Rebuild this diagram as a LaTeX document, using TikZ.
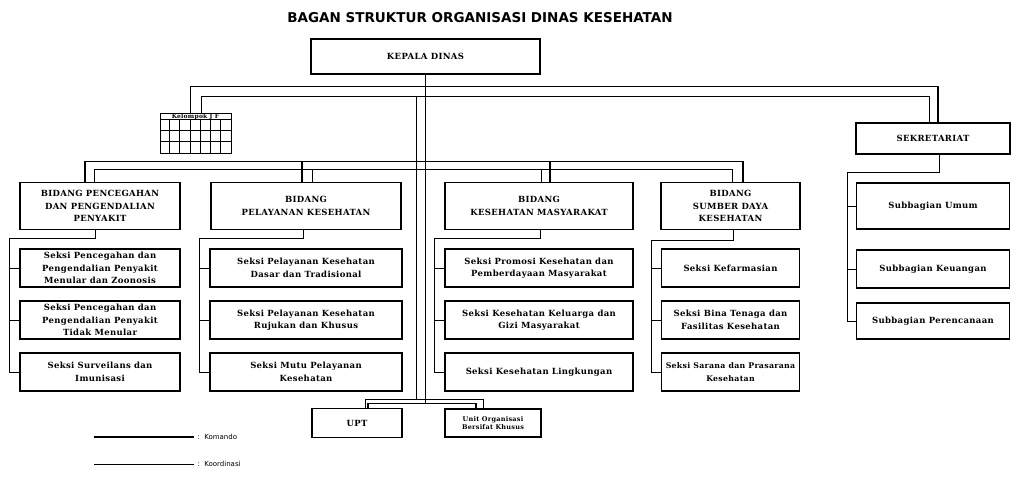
\documentclass[tikz,border=0pt]{standalone}
\usepackage{fontspec}
\setmainfont{DejaVu Serif}[LetterSpace=4]
\newfontfamily\titlefont{DejaVu Sans}
\usetikzlibrary{positioning}

\begin{document}
\begin{tikzpicture}[x=1pt,y=-1pt,node distance=52pt,on grid,
    box/.style={draw,line width=1.1pt,align=center,inner sep=2pt,
      font=\fontsize{8.5}{12.5}\selectfont\bfseries},
    bidang/.style={box,minimum height=47pt,minimum width=#1pt},
    seksi/.style={box,minimum height=38pt,minimum width=#1pt},
    komando/.style={line width=1.3pt},
    koordinasi/.style={line width=0.7pt},
    link/.style={line width=0.9pt},
    legend/.style={anchor=west,font=\titlefont\fontsize{7}{7}\selectfont}]
  \useasboundingbox (0,0) rectangle (1016,483);

  \node[font=\titlefont\fontsize{13.5}{13.5}\selectfont\bfseries] (title) at (480,18)
    {BAGAN STRUKTUR ORGANISASI DINAS KESEHATAN};
  \node[box,minimum width=229pt,minimum height=35pt] (kadis) at (425.5,56.5) {KEPALA DINAS};
  \node[draw,line width=0.9pt,minimum width=71pt,minimum height=40pt,inner sep=0pt] (kjf) at (195.5,133) {};
  \node[anchor=north,inner sep=0pt,font=\fontsize{6}{6}\selectfont\bfseries] (kjf_t)
    at ([yshift=-1pt]kjf.north) {Kelompok J F};
  \node[box,minimum width=154pt,minimum height=31pt] (sek) at (933,138.5) {SEKRETARIAT};

  % bidang
  \node[bidang=160] (b_1) at (100,206)   {BIDANG PENCEGAHAN\\DAN PENGENDALIAN\\PENYAKIT};
  \node[bidang=190] (b_2) at (306,206)   {BIDANG\\PELAYANAN KESEHATAN};
  \node[bidang=188] (b_3) at (539,206)   {BIDANG\\KESEHATAN MASYARAKAT};
  \node[bidang=139] (b_4) at (730.5,206) {BIDANG\\SUMBER DAYA\\KESEHATAN};

  % seksi
  \node[seksi=160] (s_11) [below=62pt of b_1] {Seksi Pencegahan dan\\Pengendalian Penyakit\\Menular dan Zoonosis};
  \node[seksi=160] (s_12) [below=of s_11]     {Seksi Pencegahan dan\\Pengendalian Penyakit\\Tidak Menular};
  \node[seksi=160] (s_13) [below=of s_12]     {Seksi Surveilans dan\\Imunisasi};
  \node[seksi=192] (s_21) [below=62pt of b_2] {Seksi Pelayanan Kesehatan\\Dasar dan Tradisional};
  \node[seksi=192] (s_22) [below=of s_21]     {Seksi Pelayanan Kesehatan\\Rujukan dan Khusus};
  \node[seksi=192] (s_23) [below=of s_22]     {Seksi Mutu Pelayanan\\Kesehatan};
  \node[seksi=188] (s_31) [below=62pt of b_3] {Seksi Promosi Kesehatan dan\\Pemberdayaan Masyarakat};
  \node[seksi=188] (s_32) [below=of s_31]     {Seksi Kesehatan Keluarga dan\\Gizi Masyarakat};
  \node[seksi=188] (s_33) [below=of s_32]     {Seksi Kesehatan Lingkungan};
  \node[seksi=138] (s_41) [below=62pt of b_4] {Seksi Kefarmasian};
  \node[seksi=138] (s_42) [below=of s_41]     {Seksi Bina Tenaga dan\\Fasilitas Kesehatan};
  \node[seksi=138,inner sep=0.5pt,font=\fontsize{7.8}{12.5}\selectfont\bfseries]
    (s_43) [below=of s_42] {Seksi Sarana dan Prasarana\\Kesehatan};

  % subbagian
  \node[box,minimum width=153pt,minimum height=46pt] (sub_1) [below=67.5pt of sek] {Subbagian Umum};
  \node[box,minimum width=153pt,minimum height=38pt] (sub_2) [below=63pt of sub_1]  {Subbagian Keuangan};
  \node[box,minimum width=153pt,minimum height=36pt] (sub_3) [below=52pt of sub_2]  {Subbagian Perencanaan};

  % unit
  \node[box,minimum width=90pt,minimum height=29pt] (upt) at (357,423) {UPT};
  \node[box,minimum width=96pt,minimum height=28pt,font=\fontsize{6.5}{8.5}\selectfont\bfseries]
    (unit) at (493,423) {Unit Organisasi\\Bersifat Khusus};

  % grid of kelompok
  \foreach \r in {7,18,29}
    \draw[line width=0.8pt] ([yshift=-\r pt]kjf.north west) -- ([yshift=-\r pt]kjf.north east);
  \foreach \c in {1,...,6}
    \draw[line width=0.8pt] ([shift={(\c*71/7,7)}]kjf.north west) -- ([shift={(\c*71/7,40)}]kjf.north west);

  % komando lines
  \draw[komando] (kadis.south) -- ++(0,329) coordinate (k_end);
  \draw[komando] ([xshift=-5pt]kjf.north) -- ++(0,-26) -| ([xshift=5pt]sek.north);
  \draw[komando] ([xshift=-15pt]b_1.north) -- ++(0,-20.5) -| ([xshift=12.5pt]b_4.north);
  \draw[komando] ([xshift=-4pt]b_2.north) -- ++(0,-20.5);
  \draw[komando] ([xshift=11pt]b_3.north) -- ++(0,-20.5);
  \draw[komando] ([xshift=11pt]upt.north) |- (k_end) -| ([xshift=-17pt]unit.north);

  % koordinasi lines
  \draw[koordinasi] ([xshift=5.5pt]kjf.north) -- ++(0,-16) -| ([xshift=-4pt]sek.north);
  \coordinate (c_top) at (416,97);
  \coordinate (c_end) at (416,399);
  \draw[koordinasi] (c_top) -- (c_end);
  \draw[koordinasi] ([xshift=-6pt]b_1.north) -- ++(0,-12.5) -| ([xshift=1.5pt]b_4.north);
  \draw[koordinasi] ([xshift=6pt]b_2.north) -- ++(0,-12.5);
  \draw[koordinasi] ([xshift=2pt]b_3.north) -- ++(0,-12.5);
  \draw[koordinasi] ([xshift=8pt]upt.north) |- (c_end) -| ([xshift=-10pt]unit.north);

  % seksi lines
  \draw[link] ([xshift=-5pt]b_1.south) -- ++(0,8) -| ([xshift=-10pt]s_13.west) -- (s_13.west);
  \draw[link] (s_11.west) -- ++(-10,0);
  \draw[link] (s_12.west) -- ++(-10,0);
  \draw[link] ([xshift=-3pt]b_2.south) -- ++(0,8) -| ([xshift=-10pt]s_23.west) -- (s_23.west);
  \draw[link] (s_21.west) -- ++(-10,0);
  \draw[link] (s_22.west) -- ++(-10,0);
  \draw[link] ([xshift=1pt]b_3.south) -- ++(0,8) -| ([xshift=-10pt]s_33.west) -- (s_33.west);
  \draw[link] (s_31.west) -- ++(-10,0);
  \draw[link] (s_32.west) -- ++(-10,0);
  \draw[link] ([xshift=2.5pt]b_4.south) -- ++(0,10) -| ([xshift=-10pt]s_43.west) -- (s_43.west);
  \draw[link] (s_41.west) -- ++(-10,0);
  \draw[link] (s_42.west) -- ++(-10,0);
  \draw[link] ([xshift=6pt]sek.south) -- ++(0,18) -| ([xshift=-9pt]sub_3.west) -- (sub_3.west);
  \draw[link] (sub_1.west) -- ++(-9,0);
  \draw[link] (sub_2.west) -- ++(-9,0);

  % legend
  \node[legend] (lg_k) at (194,437) {:~~Komando};
  \node[legend] (lg_c) at (194,464) {:~~Koordinasi};
  \draw[komando] (lg_k.west) -- ++(-100,0);
  \draw[koordinasi] (lg_c.west) -- ++(-100,0);
\end{tikzpicture}
\end{document}
